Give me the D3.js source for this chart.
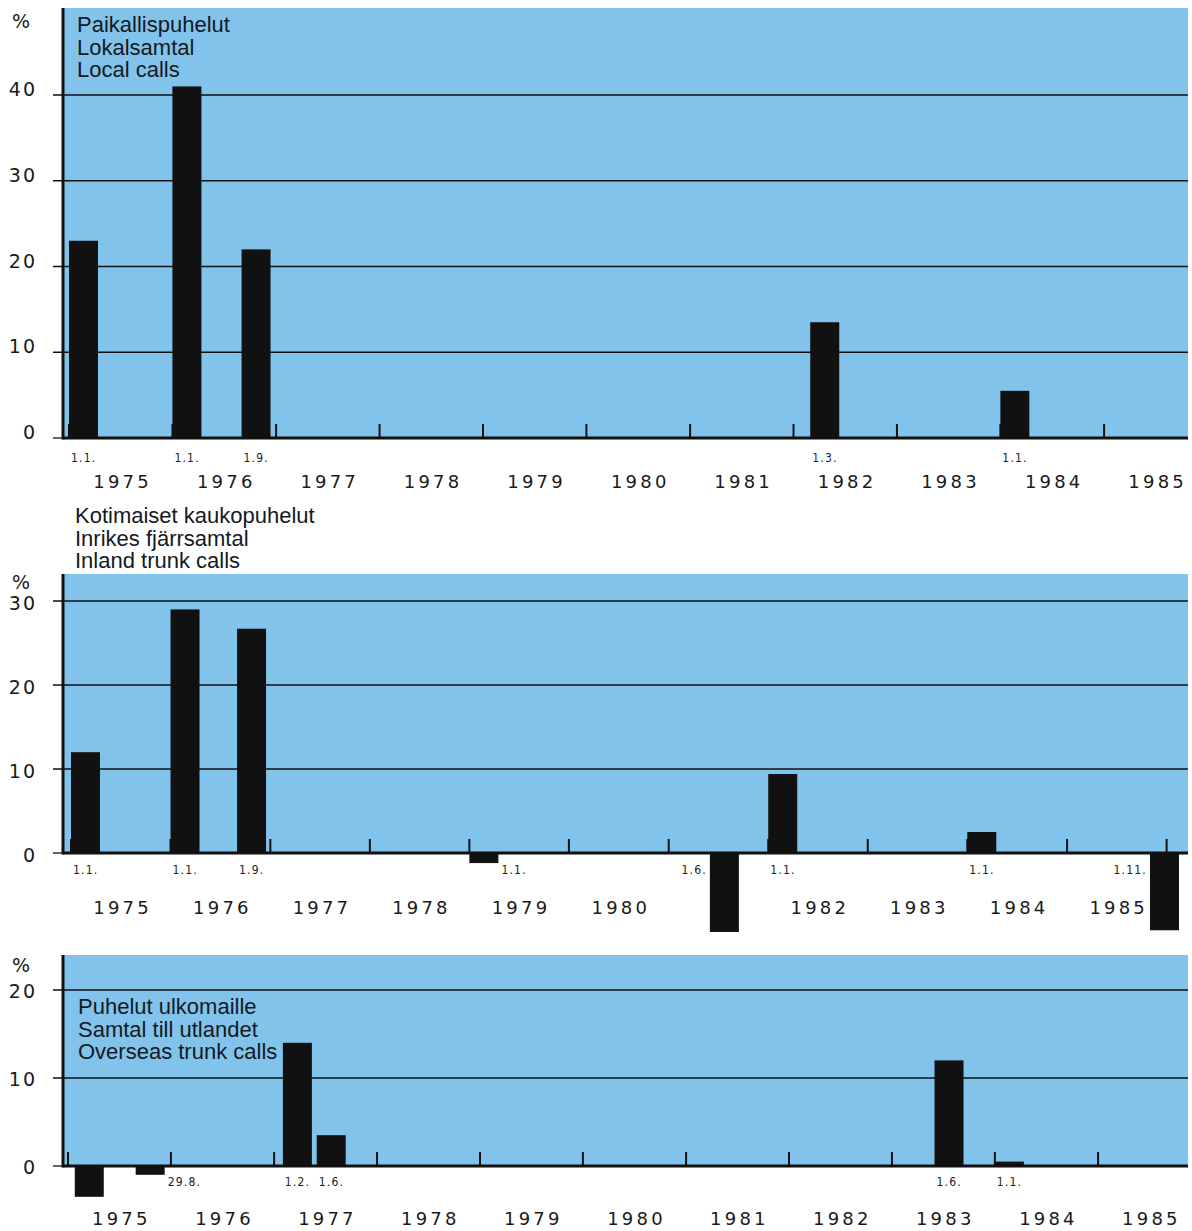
<!DOCTYPE html>
<html>
<head>
<meta charset="utf-8">
<script src="https://cdn.jsdelivr.net/npm/d3@7"></script>
<style>
  html, body { margin: 0; padding: 0; background: #ffffff; }
  svg { display: block; }
</style>
</head>
<body>
<svg id="chart" width="1192" height="1231"></svg>
<script>
// ---------- DATA ----------
// Panel 1: local calls
const localTitle = ["Paikallispuhelut", "Lokalsamtal", "Local calls"];
const localDates = ["1975-01-01", "1976-01-01", "1976-09-01", "1982-03-01", "1984-01-01"];
const localValues = [23, 41, 22, 13.5, 5.5];
const localLabels = ["1.1.", "1.1.", "1.9.", "1.3.", "1.1."];
const localYTicks = [0, 10, 20, 30, 40];
const localYears = [1975, 1976, 1977, 1978, 1979, 1980, 1981, 1982, 1983, 1984, 1985];

// Panel 2: inland trunk calls
const inlandTitle = ["Kotimaiset kaukopuhelut", "Inrikes fjärrsamtal", "Inland trunk calls"];
const inlandDates = ["1975-01-01", "1976-01-01", "1976-09-01", "1979-01-01", "1981-06-01", "1982-01-01", "1984-01-01", "1985-11-01"];
const inlandValues = [12, 29, 26.7, -1.2, -9.4, 9.4, 2.5, -9.2];
const inlandLabels = ["1.1.", "1.1.", "1.9.", "1.1.", "1.6.", "1.1.", "1.1.", "1.11."];
const inlandYTicks = [0, 10, 20, 30];
const inlandYears = [1975, 1976, 1977, 1978, 1979, 1980, 1982, 1983, 1984, 1985];

// Panel 3: overseas trunk calls
const overseasTitle = ["Puhelut ulkomaille", "Samtal till utlandet", "Overseas trunk calls"];
const overseasDates = ["1975-01-25", "1975-08-29", "1977-02-01", "1977-06-01", "1983-06-01", "1984-01-01"];
const overseasValues = [-3.5, -1.0, 14, 3.5, 12, 0.5];
const overseasLabels = ["", "29.8.", "1.2.", "1.6.", "1.6.", "1.1."];
const overseasYTicks = [0, 10, 20];
const overseasYears = [1975, 1976, 1977, 1978, 1979, 1980, 1981, 1982, 1983, 1984, 1985];

const tickYears = [1975, 1976, 1977, 1978, 1979, 1980, 1981, 1982, 1983, 1984, 1985, 1986];

// ---------- LAYOUT ----------
const parse = d3.timeParse("%Y-%m-%d");
const BLUE = "#82c3ec";
const INK = "#111111";
const LEFT = 63, RIGHT = 1188, BARW = 29;

const panels = [
  { title: localTitle, dates: localDates, values: localValues, labels: localLabels,
    yTicks: localYTicks, years: localYears,
    x0: 69, ppy: 103.5, top: 8, zeroY: 438, topVal: 40, topValY: 95,
    titleX: 77, titleY: 32, pctY: 28, yLabDy: 1, dateDy: 24, yearDy: 50 },
  { title: inlandTitle, dates: inlandDates, values: inlandValues, labels: inlandLabels,
    yTicks: inlandYTicks, years: inlandYears,
    x0: 71, ppy: 99.6, top: 574, zeroY: 853, topVal: 30, topValY: 601,
    titleX: 75, titleY: 523, pctY: 589, yLabDy: 9, dateDy: 21, yearDy: 61 },
  { title: overseasTitle, dates: overseasDates, values: overseasValues, labels: overseasLabels,
    yTicks: overseasYTicks, years: overseasYears,
    x0: 68, ppy: 103, top: 955, zeroY: 1166, topVal: 20, topValY: 990,
    titleX: 78, titleY: 1014, pctY: 972, yLabDy: 8, dateDy: 20, yearDy: 59 }
];

const svg = d3.select("#chart");
const defs = svg.append("defs");

panels.forEach((p, i) => {
  const x = d3.scaleTime()
    .domain([new Date(1975, 0, 1), new Date(1986, 0, 1)])
    .range([p.x0, p.x0 + 11 * p.ppy]);
  const y = d3.scaleLinear().domain([0, p.topVal]).range([p.zeroY, p.topValY]);
  const g = svg.append("g");

  defs.append("clipPath").attr("id", "clip" + i)
    .append("rect").attr("x", LEFT).attr("y", 0).attr("width", RIGHT - LEFT).attr("height", 1231);

  // blue plot background
  g.append("rect").attr("x", LEFT).attr("y", p.top)
    .attr("width", RIGHT - LEFT).attr("height", p.zeroY - p.top).attr("fill", BLUE);

  // gridlines + left ticks
  g.selectAll("line.grid").data(p.yTicks.filter(v => v !== 0)).join("line")
    .attr("x1", LEFT - 10).attr("x2", RIGHT)
    .attr("y1", d => y(d)).attr("y2", d => y(d))
    .attr("stroke", INK).attr("stroke-width", 1.3);
  g.append("line").attr("x1", LEFT - 10).attr("x2", LEFT)
    .attr("y1", y(0)).attr("y2", y(0)).attr("stroke", INK).attr("stroke-width", 1.3);

  // y tick labels
  g.selectAll("text.ylab").data(p.yTicks).join("text")
    .attr("x", 37).attr("y", d => y(d) + p.yLabDy)
    .attr("text-anchor", "end")
    .attr("font-family", "DejaVu Sans, sans-serif").attr("font-size", 19)
    .attr("letter-spacing", 2).attr("fill", "#1a1a1a")
    .text(d => d);
  g.append("text").attr("x", 12).attr("y", p.pctY)
    .attr("font-family", "DejaVu Sans, sans-serif").attr("font-size", 19)
    .attr("fill", "#1a1a1a").text("%");

  // title
  g.selectAll("text.title").data(p.title).join("text")
    .attr("x", p.titleX).attr("y", (d, k) => p.titleY + k * 22.7)
    .attr("font-family", "Liberation Sans, Arial, sans-serif").attr("font-size", 22)
    .attr("fill", "#141a22").text(d => d);

  const clipped = g.append("g").attr("clip-path", "url(#clip" + i + ")");

  // year-start tick marks
  clipped.selectAll("line.ytick").data(tickYears).join("line")
    .attr("x1", d => x(new Date(d, 0, 1))).attr("x2", d => x(new Date(d, 0, 1)))
    .attr("y1", p.zeroY).attr("y2", p.zeroY - 14)
    .attr("stroke", INK).attr("stroke-width", 2);

  // bars
  const data = p.dates.map((d, k) => ({ date: parse(d), value: p.values[k], label: p.labels[k] }));
  clipped.selectAll("rect.bar").data(data).join("rect")
    .attr("x", d => x(d.date))
    .attr("y", d => Math.min(y(d.value), y(0)))
    .attr("width", BARW)
    .attr("height", d => Math.abs(y(d.value) - y(0)))
    .attr("fill", INK);

  // baseline
  g.append("line").attr("x1", LEFT).attr("x2", RIGHT)
    .attr("y1", y(0)).attr("y2", y(0)).attr("stroke", INK).attr("stroke-width", 3);
  // left axis
  g.append("line").attr("x1", LEFT).attr("x2", LEFT)
    .attr("y1", p.top).attr("y2", y(0) + 1.5).attr("stroke", INK).attr("stroke-width", 3);

  // date labels
  g.selectAll("text.date").data(data.filter(d => d.label)).join("text")
    .attr("x", d => {
      if (d.value < 0 && Math.abs(d.value) > 5) return x(d.date) - 3;
      if (d.value < 0) return x(d.date) + BARW + 3;
      return x(d.date) + 2;
    })
    .attr("text-anchor", d => (d.value < 0 && Math.abs(d.value) > 5) ? "end" : "start")
    .attr("y", p.zeroY + p.dateDy)
    .attr("font-family", "DejaVu Sans Condensed, DejaVu Sans, sans-serif").attr("font-size", 12)
    .attr("letter-spacing", 1.2).attr("fill", "#222")
    .text(d => d.label);

  // year labels
  g.selectAll("text.year").data(p.years).join("text")
    .attr("x", d => x(new Date(d, 6, 2)) + 2)
    .attr("y", p.zeroY + p.yearDy)
    .attr("text-anchor", "middle")
    .attr("font-family", "DejaVu Sans, sans-serif").attr("font-size", 18)
    .attr("letter-spacing", 3.2).attr("fill", "#1a1a1a")
    .text(d => d);
});
</script>
</body>
</html>
